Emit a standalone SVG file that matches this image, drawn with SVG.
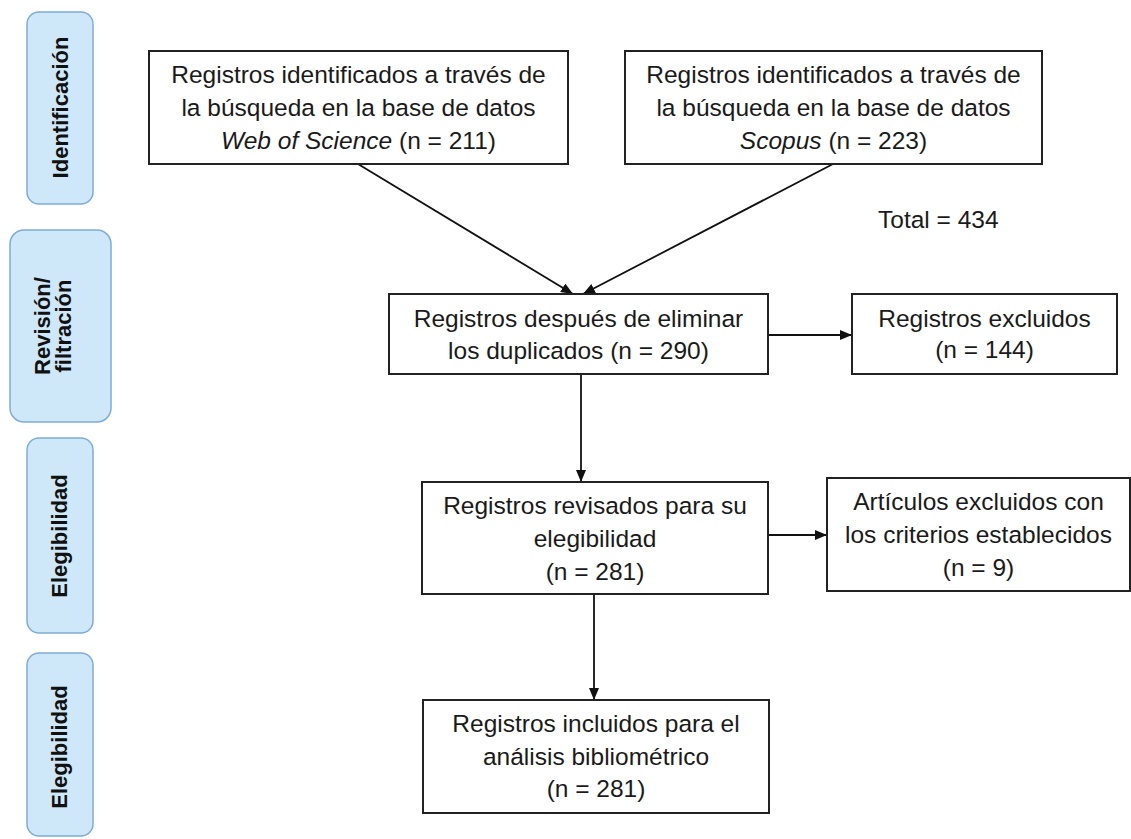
<svg xmlns="http://www.w3.org/2000/svg" width="1131" height="839" viewBox="0 0 1131 839">
<style>
.phase{fill:#cfe8f9;stroke:#7eacd8;stroke-width:1.5}
.plab{font-family:"Liberation Sans",Arial,sans-serif;font-weight:bold;font-size:22px;fill:#111;text-anchor:middle}
.box{fill:#fff;stroke:#222;stroke-width:2}
.t{font-family:"Liberation Sans",Arial,sans-serif;font-size:24.5px;fill:#1a1a1a;text-anchor:middle}
.conn{stroke:#111;stroke-width:1.8;fill:none}
</style>
<defs>
<marker id="ah" markerUnits="userSpaceOnUse" markerWidth="12" markerHeight="10" viewBox="0 0 12 10" refX="12" refY="5" orient="auto">
<path d="M0,0 L12,5 L0,10 Z" fill="#111"/>
</marker>
</defs>
<rect width="1131" height="839" fill="#fff"/>
<g id="phase-identificacion">
<rect class="phase" x="27" y="12" width="66" height="192" rx="12"/>
<text class="plab" transform="translate(68,107.5) rotate(-90)">Identificación</text>
</g>
<g id="phase-revision">
<rect class="phase" x="10" y="230" width="101" height="192" rx="14"/>
<text class="plab" transform="translate(50,326) rotate(-90)">Revisión/</text>
<text class="plab" transform="translate(71,326) rotate(-90)">filtración</text>
</g>
<g id="phase-elegibilidad-1">
<rect class="phase" x="27" y="438" width="66" height="195" rx="12"/>
<text class="plab" transform="translate(67,536) rotate(-90)">Elegibilidad</text>
</g>
<g id="phase-elegibilidad-2">
<rect class="phase" x="27" y="653" width="66" height="183" rx="12"/>
<text class="plab" transform="translate(67,747) rotate(-90)">Elegibilidad</text>
</g>
<g id="connectors">
<line class="conn" x1="358" y1="164" x2="573" y2="294" marker-end="url(#ah)"/>
<line class="conn" x1="833" y1="164" x2="583" y2="294" marker-end="url(#ah)"/>
<line class="conn" x1="581" y1="374" x2="581" y2="482" marker-end="url(#ah)"/>
<line class="conn" x1="768" y1="335" x2="852" y2="335" marker-end="url(#ah)"/>
<line class="conn" x1="594" y1="594" x2="594" y2="700" marker-end="url(#ah)"/>
<line class="conn" x1="768" y1="535" x2="827" y2="535" marker-end="url(#ah)"/>
</g>
<g id="node-wos">
<rect class="box" x="149" y="51" width="419" height="113"/>
<text class="t" x="358.5" y="83">Registros identificados a través de</text>
<text class="t" x="358.5" y="116">la búsqueda en la base de datos</text>
<text class="t" x="358.5" y="149"><tspan font-style="italic">Web of Science</tspan> (n = 211)</text>
</g>
<g id="node-scopus">
<rect class="box" x="625" y="51" width="417" height="113"/>
<text class="t" x="833.5" y="83">Registros identificados a través de</text>
<text class="t" x="833.5" y="116">la búsqueda en la base de datos</text>
<text class="t" x="833.5" y="149"><tspan font-style="italic">Scopus</tspan> (n = 223)</text>
</g>
<g id="total">
<text class="t" x="878" y="228" style="text-anchor:start">Total = 434</text>
</g>
<g id="node-duplicados">
<rect class="box" x="389" y="294" width="379" height="80"/>
<text class="t" x="578.5" y="327">Registros después de eliminar</text>
<text class="t" x="578.5" y="359">los duplicados (n = 290)</text>
</g>
<g id="node-excluidos">
<rect class="box" x="852" y="294" width="265" height="80"/>
<text class="t" x="984.5" y="327">Registros excluidos</text>
<text class="t" x="984.5" y="358">(n = 144)</text>
</g>
<g id="node-revisados">
<rect class="box" x="422" y="482" width="346" height="112"/>
<text class="t" x="595" y="514">Registros revisados para su</text>
<text class="t" x="595" y="547">elegibilidad</text>
<text class="t" x="595" y="580">(n = 281)</text>
</g>
<g id="node-articulos-excluidos">
<rect class="box" x="827" y="478" width="303" height="113"/>
<text class="t" x="978.5" y="510">Artículos excluidos con</text>
<text class="t" x="978.5" y="543">los criterios establecidos</text>
<text class="t" x="978.5" y="576">(n = 9)</text>
</g>
<g id="node-incluidos">
<rect class="box" x="423" y="700" width="346" height="113"/>
<text class="t" x="596" y="732">Registros incluidos para el</text>
<text class="t" x="596" y="765">análisis bibliométrico</text>
<text class="t" x="596" y="797">(n = 281)</text>
</g>
</svg>
